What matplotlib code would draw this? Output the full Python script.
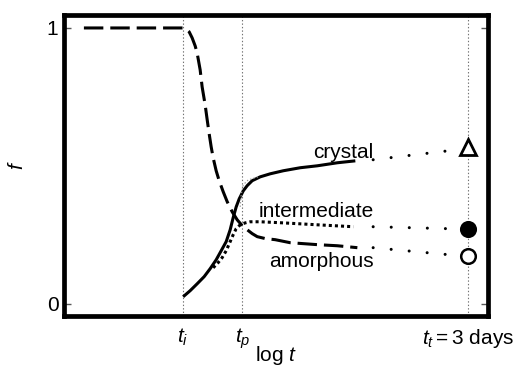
"""
Fraction of each phase versus log time: amorphous, intermediate and crystal,
with the long-time values marked at t_t = 3 days.
"""

import matplotlib
matplotlib.use("Agg")
import matplotlib.pyplot as plt

plt.rcParams['font.family'] = ['Liberation Sans', 'DejaVu Sans']
plt.rcParams['mathtext.fontset'] = 'custom'
plt.rcParams['mathtext.rm'] = 'Liberation Sans'
plt.rcParams['mathtext.it'] = 'Liberation Sans:italic'
plt.rcParams['lines.scale_dashes'] = False

# characteristic times on the log t axis
t_marks = [2.81, 4.21, 9.55]
t_labels = [r'$t_i$', r'$t_p$', r'$t_t = 3\ \mathrm{days}$']

# amorphous fraction
amor_x = [0.47, 2.813, 2.884, 2.955, 3.026, 3.097, 3.144, 3.215, 3.262, 3.333,
          3.381, 3.428, 3.475, 3.522, 3.593, 3.664, 3.759, 3.853, 3.972, 4.090,
          4.208, 4.326, 4.444, 4.563, 4.752, 4.988, 5.343, 5.981, 6.454, 6.927]
amor_y = [1.0, 1.0, 0.996, 0.986, 0.964, 0.935, 0.909, 0.848, 0.786, 0.721,
          0.667, 0.616, 0.569, 0.529, 0.482, 0.446, 0.406, 0.370, 0.333, 0.304,
          0.283, 0.268, 0.254, 0.243, 0.236, 0.232, 0.221, 0.214, 0.210, 0.203]

# crystal fraction
cryst_x = [2.813, 2.979, 3.144, 3.310, 3.452, 3.593, 3.712, 3.830, 3.924,
           3.995, 4.066, 4.137, 4.232, 4.326, 4.444, 4.634, 4.870, 5.177,
           5.579, 5.981, 6.454, 6.879]
cryst_y = [0.025, 0.047, 0.072, 0.098, 0.127, 0.159, 0.192, 0.225, 0.268,
           0.312, 0.351, 0.380, 0.409, 0.428, 0.446, 0.460, 0.471, 0.482,
           0.493, 0.500, 0.511, 0.518]

# intermediate fraction
inter_x = [3.522, 3.641, 3.735, 3.830, 3.924, 3.995, 4.066, 4.161, 4.279,
           4.397, 4.634, 5.177, 5.981, 6.832]
inter_y = [0.130, 0.149, 0.167, 0.192, 0.225, 0.250, 0.272, 0.286, 0.293,
           0.297, 0.297, 0.293, 0.286, 0.279]

# faint guide near t_p
guide_x = [4.161, 4.184, 4.232, 4.350, 4.586]
guide_y = [0.351, 0.395, 0.431, 0.449, 0.460]

# extrapolation towards t_t and the values reached there
ext_x = [7.30, 9.05]
cryst_ext = [0.522, 0.554]
inter_ext = [0.279, 0.272]
amor_ext = [0.203, 0.178]
final_cryst = 0.569
final_inter = 0.272
final_amor = 0.174

fig = plt.figure(figsize=(5.14, 3.67), dpi=100)
ax = fig.add_axes([64 / 514, 1 - 315.5 / 367, 423.5 / 514, 300.5 / 367])

ax.set_xlim(0, 10)
ax.set_ylim(-0.043, 1.047)

lw = 2.2
ax.plot(amor_x, amor_y, color='black', lw=lw, dashes=(14, 5),
        solid_joinstyle='round')
ax.plot(cryst_x, cryst_y, color='black', lw=lw, solid_capstyle='butt',
        solid_joinstyle='round')
ax.plot(inter_x, inter_y, color='black', lw=lw, dashes=(2.2, 2.2))
ax.plot(guide_x, guide_y, color='0.6', lw=0.8, dashes=(1, 1.5))

sparse = dict(color='black', lw=2.2, dashes=(0.01, 13), dash_capstyle='round')
ax.plot(ext_x, cryst_ext, **sparse)
ax.plot(ext_x, inter_ext, **sparse)
ax.plot(ext_x, amor_ext, **sparse)

ax.plot(t_marks[2], final_cryst, marker='^', ms=11, mfc='white',
        mec='black', mew=2, zorder=5)
ax.plot(t_marks[2], final_inter, marker='o', ms=10.5, mfc='black',
        mec='black', mew=1.8, zorder=5)
ax.plot(t_marks[2], final_amor, marker='o', ms=10.5, mfc='white',
        mec='black', mew=1.8, zorder=5)

# curve labels, right-aligned just past the curve ends
lab_x = 7.31
ax.text(lab_x, 0.547, 'crystal', ha='right', va='center', fontsize=15)
ax.text(lab_x, 0.333, 'intermediate', ha='right', va='center', fontsize=15)
ax.text(lab_x, 0.152, 'amorphous', ha='right', va='center', fontsize=15)

# vertical markers at the characteristic times
ax.set_xticks(t_marks)
ax.set_xticklabels(t_labels, fontsize=15)
ax.grid(True, axis='x', color='0.45', lw=0.8, linestyle=(0, (1, 1.5)))
ax.tick_params(axis='x', length=0, pad=8)

ax.set_yticks([0, 1])
ax.set_yticklabels(['0', '1'], fontsize=15)
ax.tick_params(axis='y', direction='in', length=5, width=1, color='0.35',
               left=True, right=True, pad=4)

for side in ax.spines.values():
    side.set_linewidth(3.4)
    side.set_color('black')

ax.set_xlabel(r'$\mathrm{log}\ t$', fontsize=15, labelpad=-5)
ax.set_ylabel(r'$f$', fontsize=15, labelpad=14)

fig.savefig('out.png', dpi=100)
